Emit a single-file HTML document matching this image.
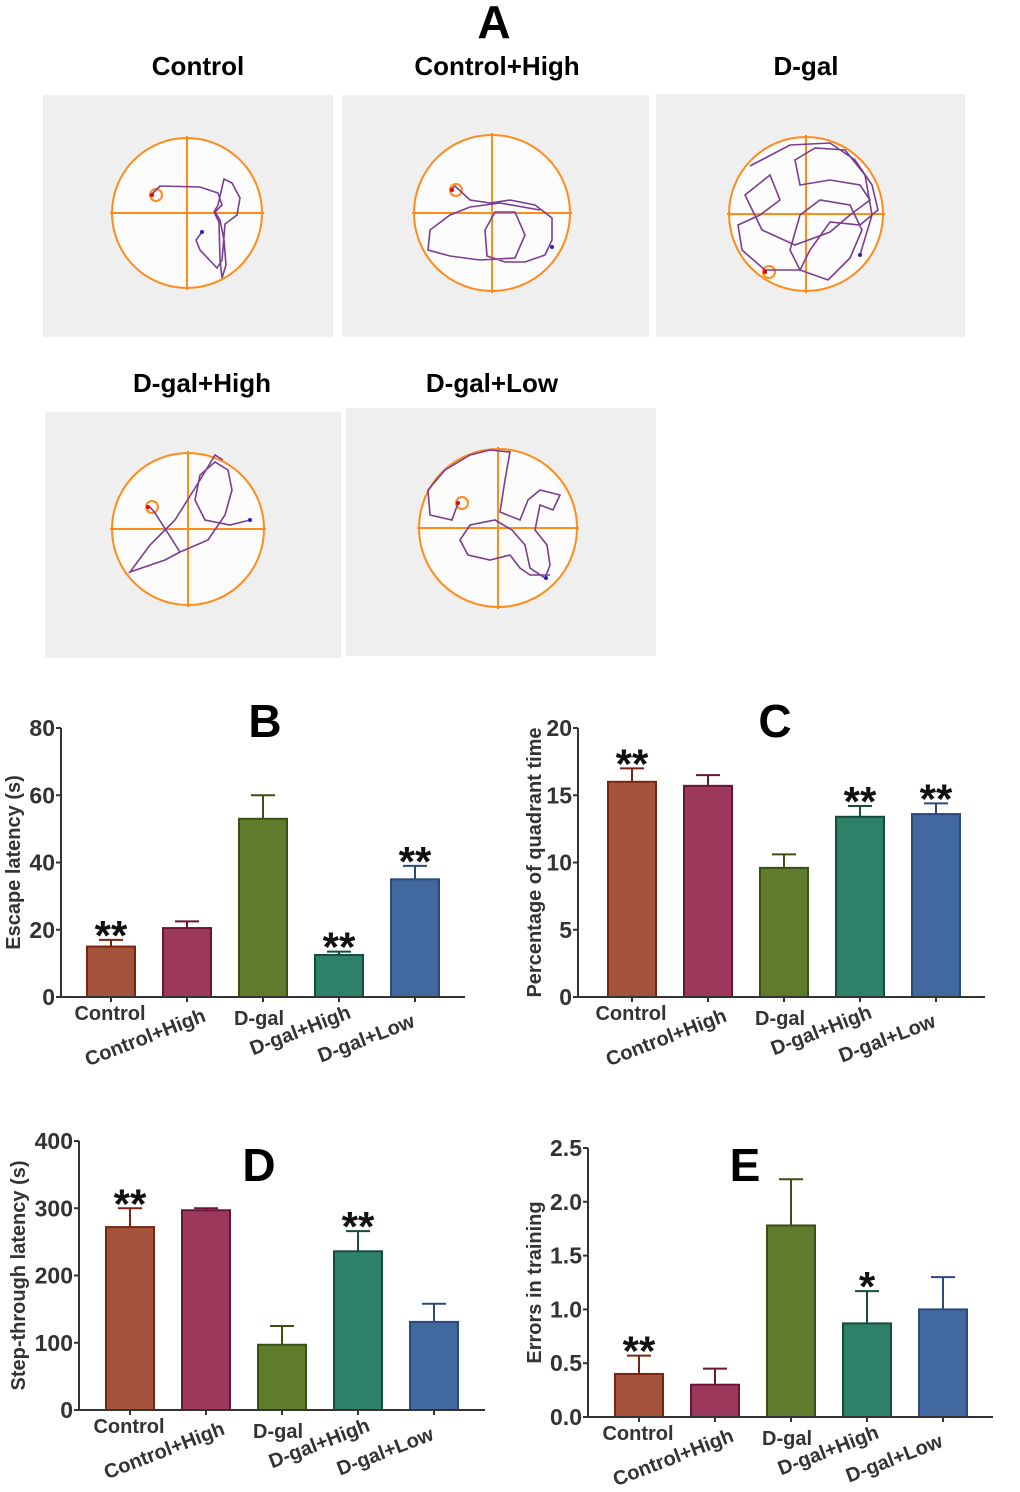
<!DOCTYPE html>
<html><head><meta charset="utf-8">
<style>
html,body{margin:0;padding:0;background:#fff;}
svg{display:block;font-family:"Liberation Sans",Arial,sans-serif;}
</style></head>
<body>
<svg id="fig" width="1020" height="1492" viewBox="0 0 1020 1492">
<text x="494" y="38" font-size="46" font-weight="bold" text-anchor="middle" fill="#000">A</text>
<g id="panelA"></g>
<g id="charts"></g>
</svg>
<script>
// ---------- chart data ----------
const categories = ["Control","Control+High","D-gal","D-gal+High","D-gal+Low"];
const escapeMeans = [15, 20.5, 53, 12.5, 35];
const escapeErr = [2, 2, 7, 1, 4];
const escapeSig = ["**","","","**","**"];
const quadMeans = [16, 15.7, 9.6, 13.4, 13.6];
const quadErr = [1, 0.8, 1, 0.8, 0.8];
const quadSig = ["**","","","**","**"];
const stepMeans = [272, 297, 97, 236, 131];
const stepErr = [28, 3, 28, 30, 27];
const stepSig = ["**","","","**",""];
const errMeans = [0.4, 0.3, 1.78, 0.87, 1.0];
const errErr = [0.17, 0.15, 0.43, 0.3, 0.3];
const errSig = ["**","","","*",""];
const escapeTicks = ["0","20","40","60","80"];
const quadTicks = ["0","5","10","15","20"];
const stepTicks = ["0","100","200","300","400"];
const errTicks = ["0.0","0.5","1.0","1.5","2.0","2.5"];

const NS="http://www.w3.org/2000/svg";
function mk(tag,attrs,parent){const e=document.createElementNS(NS,tag);for(const k in attrs)e.setAttribute(k,attrs[k]);parent.appendChild(e);return e;}
const fills=["#a3543a","#9c385c","#5f7b2c","#2d8168","#42699f"];
const strokes=["#7a2510","#6a1535","#3a5015","#164d3c","#2b4a7a"];
const labelOff=[[-1,23],[-42,47],[-4,28],[-39,40],[-49,48]];

function chart(cfg,means,errs,sig,ticks){
  const root=document.getElementById('charts');
  const g=mk('g',{},root);
  
  
  const max=cfg.max;
  const y=v=>cfg.y0-(v/max)*(cfg.y0-cfg.yTop);
  const x=i=>cfg.x0+cfg.first+i*76;
  means.forEach((m,i)=>{
    const bw=48;
    const eTop=y(m+errs[i]);
    const ln=mk('line',{x1:x(i),x2:x(i),y1:y(m),y2:eTop,stroke:strokes[i],'stroke-width':2},g);
    
    
    const cap=mk('line',{x1:x(i)-12,x2:x(i)+12,y1:eTop,y2:eTop,stroke:strokes[i],'stroke-width':2},g);
    
    
    const r=mk('rect',{x:x(i)-bw/2,y:y(m),width:bw,height:cfg.y0-y(m),fill:fills[i],stroke:strokes[i],'stroke-width':2},g);
    
    
    if(sig[i]){
      const t=mk('text',{x:x(i),y:eTop+10,'font-size':42,'font-weight':'bold','text-anchor':'middle',fill:'#111'},g);
      t.textContent=sig[i];
      
      
    }
  });
  const ya=mk('line',{x1:cfg.x0,x2:cfg.x0,y1:cfg.yTop,y2:cfg.y0+1,stroke:'#333','stroke-width':2},g);
  
  
  const xa=mk('line',{x1:cfg.x0-5,x2:cfg.xEnd,y1:cfg.y0,y2:cfg.y0,stroke:'#333','stroke-width':2},g);
  
  
  ticks.forEach((tk,i)=>{
    const v=i*max/(ticks.length-1);
    mk('line',{x1:cfg.x0-5,x2:cfg.x0,y1:y(v),y2:y(v),stroke:'#333','stroke-width':2},g);
    const t=mk('text',{x:cfg.x0-6,y:y(v)+8,'font-size':23,'font-weight':'bold','text-anchor':'end',fill:'#333'},g);
    t.textContent=tk;
    
    
  });
  categories.forEach((c,i)=>{
    mk('line',{x1:x(i),x2:x(i),y1:cfg.y0,y2:cfg.y0+5,stroke:'#333','stroke-width':2},g);
    const cx=x(i)+labelOff[i][0], cy=cfg.y0+labelOff[i][1];
    let t;
    if(i==0||i==2){
      t=mk('text',{x:cx,y:cy,'font-size':20,'font-weight':'bold','text-anchor':'middle',fill:'#333'},g);
    } else {
      t=mk('text',{x:cx,y:cy,'font-size':20,'font-weight':'bold','text-anchor':'middle',fill:'#333',transform:`rotate(-21 ${cx} ${cy-7})`},g);
    }
    t.textContent=c;
    
    
  });
  const yl=mk('text',{x:cfg.ylX,y:(cfg.y0+cfg.yTop)/2,'font-size':20,'font-weight':'bold','text-anchor':'middle',fill:'#333',transform:`rotate(-90 ${cfg.ylX} ${(cfg.y0+cfg.yTop)/2})`},g);
  yl.textContent=cfg.ytitle;
  
  
  const L=mk('text',{x:cfg.lx,y:cfg.ly,'font-size':46,'font-weight':'bold','text-anchor':'middle',fill:'#000'},g);
  L.textContent=cfg.letter;
  
  
}
chart({name:'chart-b-escape-latency',x0:61,y0:997,yTop:728,max:80,first:50,xEnd:465,ylX:20,ytitle:'Escape latency (s)',letter:'B',lx:265,ly:737},escapeMeans,escapeErr,escapeSig,escapeTicks);
chart({name:'chart-c-quadrant-time',x0:578,y0:997,yTop:728,max:20,first:54,xEnd:985,ylX:541,ytitle:'Percentage of quadrant time',letter:'C',lx:775,ly:737},quadMeans,quadErr,quadSig,quadTicks);
chart({name:'chart-d-step-through',x0:79,y0:1410,yTop:1141,max:400,first:51,xEnd:485,ylX:25,ytitle:'Step-through latency (s)',letter:'D',lx:259,ly:1181},stepMeans,stepErr,stepSig,stepTicks);
chart({name:'chart-e-errors',x0:588,y0:1417,yTop:1148,max:2.5,first:51,xEnd:993,ylX:541,ytitle:'Errors in training',letter:'E',lx:745,ly:1181},errMeans,errErr,errSig,errTicks);

// ---------- panel A tracks ----------
const pa=document.getElementById('panelA');
const panels=[
 {t:'Control',tx:198,ty:75,r:[43,95,290,242],c:[187,213],R:75,
  path:"M150,196 L156,190 L160,186 L200,187 L218,193 L222,205 L215,212 L220,220 L224,240 L226,265 L222,278 L220,260 L219,222 L214,212 L218,205 L224,179 L232,183 L240,198 L237,215 L225,224 L222,260 L217,268 L200,250 L196,240 L202,232",blue:[202,232],red:[152,195]},
 {t:'Control+High',tx:497,ty:75,r:[342,95,307,242],c:[492,213],R:78,
  path:"M450,190 L455,186 L470,200 L490,203 L510,200 L535,205 L552,218 L552,240 L545,255 L525,262 L505,262 L487,256 L485,230 L495,212 L515,212 L525,235 L515,258 L480,260 L450,256 L428,250 L430,230 L450,215 L470,207 L500,203 L540,210",blue:[552,247],red:[452,190]},
 {t:'D-gal',tx:806,ty:75,r:[656,94,309,243],c:[806,214],R:77,
  path:"M750,166 L790,145 L830,143 L855,160 L872,185 L878,210 L860,225 L830,222 L810,250 L800,270 L790,250 L800,215 L820,200 L850,205 L862,230 L850,258 L828,280 L800,270 L765,270 L742,250 L738,225 L760,215 L780,200 L770,175 L745,195 L762,230 L795,245 L830,232 L850,215 L870,200 L860,185 L830,180 L800,185 L795,160 L815,148 L845,150 L865,175 L872,215 L860,255",blue:[860,255],red:[765,272]},
 {t:'D-gal+High',tx:202,ty:392,r:[45,412,296,246],c:[188,529],R:76,
  path:"M150,507 L155,513 L180,552 L208,540 L225,515 L232,490 L228,470 L215,462 L200,475 L195,500 L205,520 L230,525 L250,520 M180,552 L165,560 L130,572 L150,545 L175,520 L200,480 L215,455 L223,460",blue:[250,520],red:[148,507]},
 {t:'D-gal+Low',tx:492,ty:392,r:[346,408,310,248],c:[498,528],R:79,
  path:"M458,503 L452,520 L430,515 L428,490 L445,470 L470,455 L490,450 L510,452 L505,480 L500,512 L520,520 L528,500 L540,490 L560,495 L553,510 L540,505 L535,530 L547,545 L550,565 L545,578 L530,568 L525,545 L512,530 L495,520 L470,525 L460,540 L468,555 L490,560 L510,555 L520,568 L530,575 L550,575",blue:[546,578],red:[458,503]}
];
panels.forEach((p,i)=>{
  const g=mk('g',{},pa);
  
  
  const t=mk('text',{x:p.tx,y:p.ty,'font-size':26,'font-weight':'bold','text-anchor':'middle',fill:'#000'},g);
  t.textContent=p.t;
  
  
  mk('rect',{x:p.r[0],y:p.r[1],width:p.r[2],height:p.r[3],fill:'#efefef'},g);
  mk('circle',{cx:p.c[0],cy:p.c[1],r:p.R,fill:'#fcfcfc',stroke:'#ff8c1a','stroke-width':2},g);
  mk('line',{x1:p.c[0]-p.R-2,x2:p.c[0]+p.R+2,y1:p.c[1],y2:p.c[1],stroke:'#ff8c1a','stroke-width':2},g);
  mk('line',{x1:p.c[0],x2:p.c[0],y1:p.c[1]-p.R-2,y2:p.c[1]+p.R+2,stroke:'#ff8c1a','stroke-width':2},g);
  mk('circle',{cx:p.red[0]+4,cy:p.red[1],r:6,fill:'none',stroke:'#ff8c1a','stroke-width':2},g);
  mk('path',{d:p.path,fill:'none',stroke:'#7a3d90','stroke-width':1.6},g);
  mk('circle',{cx:p.red[0],cy:p.red[1],r:2,fill:'#e00'},g);
  mk('circle',{cx:p.blue[0],cy:p.blue[1],r:2,fill:'#22c'},g);
});
</script>
</body></html>
